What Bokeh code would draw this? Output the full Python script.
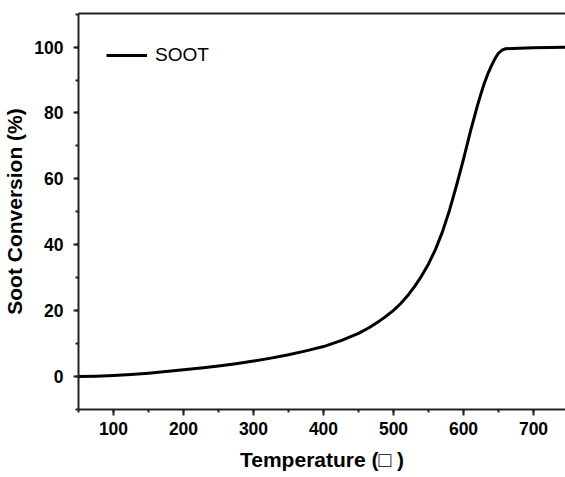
from bokeh.plotting import figure
from bokeh.models import LinearAxis, SingleIntervalTicker, FixedTicker, Range1d, Legend, LegendItem
from bokeh.embed import file_html
from bokeh.resources import INLINE

temperature = [50, 75, 100, 125, 150, 175, 200, 225, 250, 275, 300, 325, 350, 375, 400,
               425, 450, 465, 480, 490, 500, 510, 520, 530, 540, 550, 560, 570, 580, 590,
               600, 610, 620, 625, 630, 635, 640, 645, 650, 655, 660, 670, 700, 750]
conversion = [0.0, 0.1, 0.3, 0.6, 1.0, 1.5, 2.1, 2.6, 3.2, 3.9, 4.7, 5.6, 6.6, 7.8, 9.1,
              10.9, 13.1, 14.8, 16.9, 18.4, 20.1, 22.1, 24.5, 27.3, 30.5, 34.2, 38.6, 44.0, 50.5, 58.0,
              66.0, 74.5, 82.3, 85.9, 89.2, 92.0, 94.4, 96.5, 98.2, 99.1, 99.5, 99.6, 99.8, 100.0]
series_name = "SOOT"
x_title = "Temperature (\u25a1 )"
y_title = "Soot Conversion (%)"

FONT = "Liberation Sans"

p = figure(width=565, height=477, output_backend="svg", toolbar_location=None,
           x_range=Range1d(50, 745.7), y_range=Range1d(-10, 110.2),
           x_axis_type=None, y_axis_type=None,
           min_border_left=78, min_border_right=0, min_border_top=13, min_border_bottom=68)
p.outline_line_color = None
p.grid.visible = False
p.background_fill_color = "white"
p.border_fill_color = "white"

def style(ax, major_out, minor_out):
    ax.axis_line_width = 2
    ax.axis_line_color = "#222222"
    ax.major_tick_line_width = 2
    ax.minor_tick_line_width = 2
    ax.major_tick_line_color = "#222222"
    ax.minor_tick_line_color = "#222222"
    ax.major_tick_in = 0
    ax.minor_tick_in = 0
    ax.major_tick_out = major_out
    ax.minor_tick_out = minor_out
    ax.major_label_text_font = FONT
    ax.major_label_text_font_style = "bold"
    ax.major_label_text_font_size = "17.5px"
    ax.major_label_text_color = "black"
    ax.axis_label_text_font = FONT
    ax.axis_label_text_font_style = "bold"
    ax.axis_label_text_font_size = "21px"
    ax.axis_label_text_color = "black"

xaxis = LinearAxis(ticker=SingleIntervalTicker(interval=100, num_minor_ticks=2), axis_label=x_title)
style(xaxis, 6, 3)
xaxis.major_label_standoff = 6
xaxis.axis_label_standoff = 10
p.add_layout(xaxis, "below")

yaxis = LinearAxis(ticker=SingleIntervalTicker(interval=20, num_minor_ticks=2), axis_label=y_title)
style(yaxis, 5, 3)
yaxis.major_label_standoff = 10
yaxis.axis_label_standoff = 5
p.add_layout(yaxis, "left")

top = LinearAxis(ticker=FixedTicker(ticks=[]), major_label_text_font_size="0px",
                 major_tick_out=0, minor_tick_out=0, axis_line_width=2, axis_line_color="#222222")
p.add_layout(top, "above")

r = p.line(temperature, conversion, line_color="black", line_width=3, line_join="round")

legend = Legend(items=[LegendItem(label=series_name, renderers=[r])],
                location=(28, 343), border_line_color=None, background_fill_alpha=0,
                padding=0, margin=0, glyph_width=41, glyph_height=20, label_standoff=8,
                label_text_font=FONT, label_text_font_size="19px", label_text_color="black")
p.add_layout(legend, "center")

open("out.html", "w").write(file_html(p, INLINE))
